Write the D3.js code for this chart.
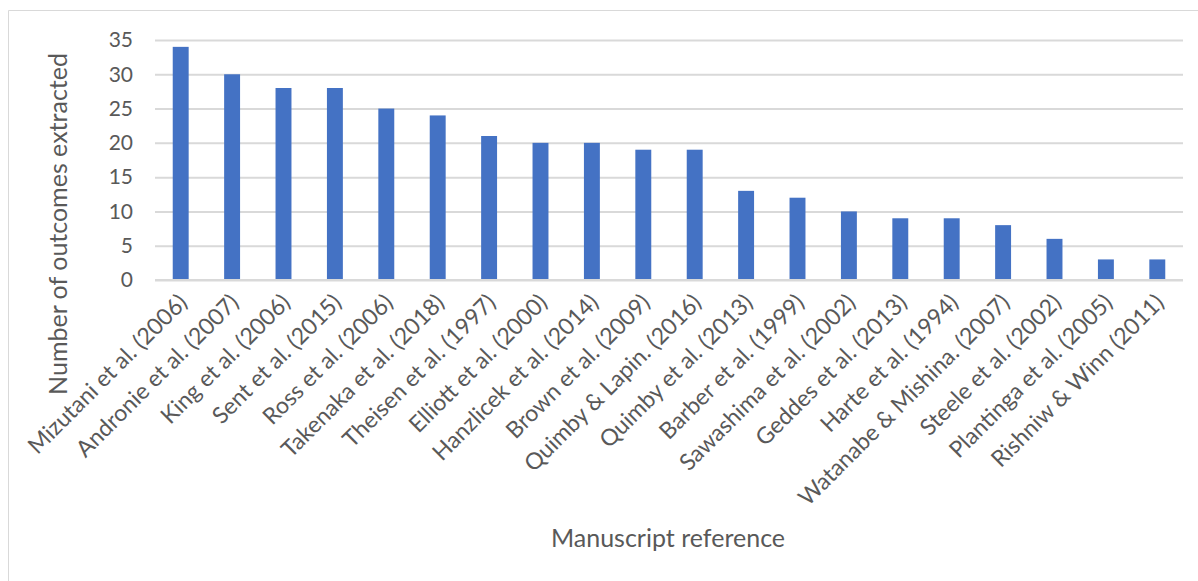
<!DOCTYPE html>
<html>
<head>
<meta charset="utf-8">
<script src="https://cdn.jsdelivr.net/npm/d3@7"></script>
<style>
  html, body { margin: 0; padding: 0; background: #fff; }
  svg { display: block; font-family: Lato, "Open Sans", sans-serif; }
</style>
</head>
<body>
<svg id="chart" width="1198" height="581"></svg>
<script>
// Manuscripts and the number of outcomes extracted from each
const manuscripts = [
  "Mizutani et al. (2006)", "Andronie et al. (2007)", "King et al. (2006)",
  "Sent et al. (2015)", "Ross et al. (2006)", "Takenaka et al. (2018)",
  "Theisen et al. (1997)", "Elliott et al. (2000)", "Hanzlicek et al. (2014)",
  "Brown et al. (2009)", "Quimby & Lapin. (2016)", "Quimby et al. (2013)",
  "Barber et al. (1999)", "Sawashima et al. (2002)", "Geddes et al. (2013)",
  "Harte et al. (1994)", "Watanabe & Mishina. (2007)", "Steele et al. (2002)",
  "Plantinga et al. (2005)", "Rishniw & Winn (2011)"
];
const outcomes = [34, 30, 28, 28, 25, 24, 21, 20, 20, 19, 19, 13, 12, 10, 9, 9, 8, 6, 3, 3];
const yTicks = [0, 5, 10, 15, 20, 25, 30, 35];

const svg = d3.select("#chart");
const W = 1198, H = 581;
const m = { left: 155, right: 1183, top: 40, bottom: 280 };
const textColor = "#595959";

// chart frame
svg.append("path")
  .attr("d", `M8.5,${H} V10.5 H${W}`)
  .attr("fill", "none")
  .attr("stroke", "#D9D9D9")
  .attr("stroke-width", 1);

const x = d3.scaleBand().domain(manuscripts).range([m.left, m.right]).paddingInner(0.69).paddingOuter(0.345);
const y = d3.scaleLinear().domain([0, 35]).range([m.bottom, m.top]);

// horizontal gridlines and value labels
const yAxis = d3.axisLeft(y).tickValues(yTicks).tickSize(-(m.right - m.left)).tickPadding(22);
const gy = svg.append("g").attr("transform", `translate(${m.left},0)`).call(yAxis);
gy.select(".domain").remove();
gy.selectAll(".tick line").attr("stroke", "#D9D9D9").attr("stroke-width", 2);
gy.selectAll(".tick text")
  .attr("fill", textColor)
  .style("font-size", "21px")
  .style("font-family", "Lato, sans-serif");

// bars
svg.append("g").selectAll("rect")
  .data(manuscripts)
  .join("rect")
  .attr("x", d => x(d))
  .attr("width", x.bandwidth())
  .attr("y", (d, i) => y(outcomes[i]))
  .attr("height", (d, i) => y(0) - y(outcomes[i]))
  .attr("fill", "#4472C4");

// baseline drawn above bars
svg.append("line")
  .attr("x1", m.left).attr("x2", m.right)
  .attr("y1", y(0)).attr("y2", y(0))
  .attr("stroke", "#D9D9D9").attr("stroke-width", 2);

// category axis with slanted labels
const xAxis = d3.axisBottom(x).tickSize(0).tickPadding(0);
const gx = svg.append("g").attr("transform", `translate(0,${y(0)})`).call(xAxis);
gx.select(".domain").remove();
gx.selectAll(".tick text")
  .attr("fill", textColor)
  .style("font-size", "23px")
  .style("font-family", "Lato, sans-serif")
  .attr("text-anchor", "end")
  .attr("dy", null)
  .attr("y", 0)
  .attr("transform", "translate(8,24) rotate(-45)");

// axis titles
svg.append("text")
  .attr("transform", `translate(67,${224}) rotate(-90)`)
  .attr("text-anchor", "middle")
  .attr("fill", textColor)
  .style("font-size", "25px")
  .text("Number of outcomes extracted");

svg.append("text")
  .attr("x", 668).attr("y", 547)
  .attr("text-anchor", "middle")
  .attr("fill", textColor)
  .style("font-size", "25px")
  .text("Manuscript reference");
</script>
</body>
</html>
